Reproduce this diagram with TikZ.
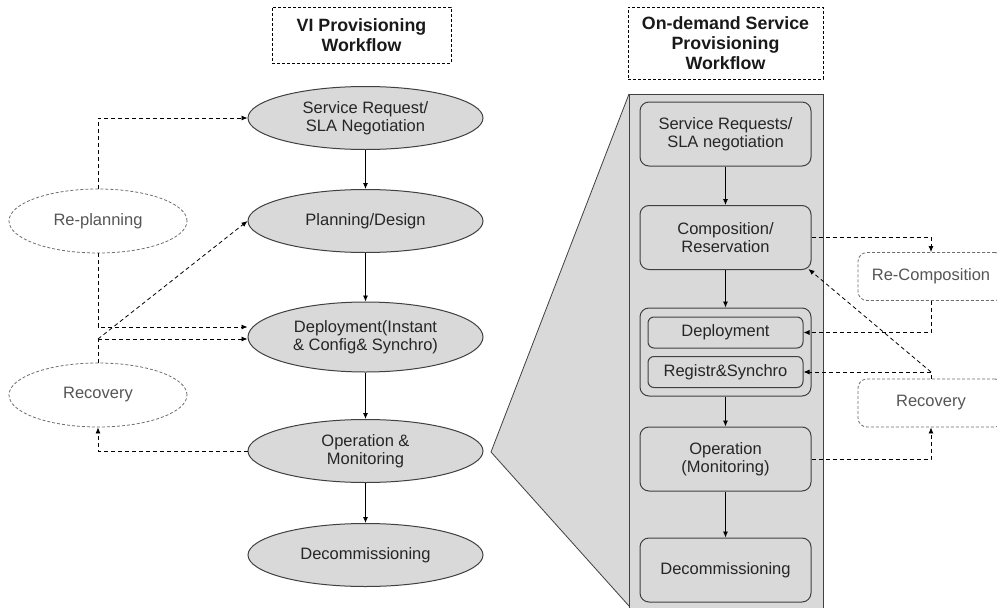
\documentclass[tikz,border=0pt]{standalone}
\usepackage{fontspec}
\setmainfont{Liberation Sans}
\usetikzlibrary{shapes.geometric,arrows.meta}
\definecolor{boxgray}{HTML}{D9D9D9}
\definecolor{linegray}{HTML}{404040}
\definecolor{dashgray}{HTML}{6E6E6E}
\definecolor{txtgray}{HTML}{555555}
\begin{document}
\begin{tikzpicture}[x=1pt, y=-1pt, >={Latex[length=6pt,width=5pt]},
  every node/.style={font=\fontsize{16.5}{17.5}\selectfont, align=center, inner sep=0pt, text=black!85},
  phase/.style={ellipse, draw=linegray, fill=boxgray, line width=1pt, minimum width=235pt, minimum height=63pt},
  fallback/.style={ellipse, draw=dashgray, dash pattern=on 3pt off 2pt, line width=0.8pt, minimum width=178pt, minimum height=64pt, text=txtgray},
  heading/.style={draw, dash pattern=on 3pt off 2pt, line width=0.7pt, font=\bfseries\fontsize{17.8}{20}\selectfont, text=black!90},
  stepbox/.style={rectangle, rounded corners=9pt, draw=linegray, fill=boxgray, line width=1pt, minimum width=171pt, minimum height=64pt},
  substep/.style={stepbox, rounded corners=6pt, minimum width=155pt, minimum height=31pt},
  sidebox/.style={rectangle, rounded corners=9pt, draw=dashgray, dash pattern=on 3pt off 2pt, line width=0.8pt, minimum width=146pt, minimum height=48pt, text=txtgray},
  flow/.style={->, line width=0.8pt},
  back/.style={->, dash pattern=on 4pt off 3pt, line width=0.8pt}]

  \useasboundingbox (0,0) rectangle (997,608);
  \clip (0,0) rectangle (997,608);

  % titles
  \node[heading, minimum width=179pt, minimum height=56pt] (vit) at (361.5,35) {VI Provisioning\\Workflow};
  \node[heading, minimum width=195pt, minimum height=72pt] (odt) at (725.5,43) {On-demand Service\\Provisioning\\Workflow};

  % VI provisioning workflow
  \node[phase] (sr) at (365.5,118) {Service Request/\\SLA Negotiation};
  \node[phase] (pd) at (365.5,221) {Planning/Design};
  \node[phase, minimum height=70pt] (dep) at (365.5,337) {Deployment(Instant\\\& Config\& Synchro)};
  \node[phase] (om) at (365.5,451) {Operation \&\\Monitoring};
  \node[phase] (dc) at (365.5,555) {Decommissioning};
  \draw[flow] (sr) -- (pd);
  \draw[flow] (pd) -- (dep);
  \draw[flow] (dep) -- (om);
  \draw[flow] (om) -- (dc);

  % re-planning and recovery
  \node[fallback] (rp) at (98,221) {Re-planning};
  \node[fallback] (rc) at (98,395) {Recovery};
  \coordinate (rcj) at (98,339);
  \draw[back] (rp.north) |- (sr.west);
  \draw[back] (rp.south) |- ([yshift=10pt]dep.west);
  \draw[back, -] (rc.north) -- (rcj);
  \draw[back] (rcj) -- ([yshift=-2pt]dep.west);
  \draw[back] (rcj) -- (pd.west);
  \draw[back] (om.west) -| (rc.south);

  % zoomed panel
  \fill[boxgray] (629,94) -- (491,452) -- (629,606) -- cycle;
  \draw[linegray, line width=0.8pt] (629,94) -- (491,452) -- (629,606);
  \draw[linegray, fill=boxgray, line width=1pt] (629,94) rectangle (823,612);

  % on-demand service provisioning workflow
  \node[stepbox] (rsr) at (725.5,134) {Service Requests/\\SLA negotiation};
  \node[stepbox] (rcr) at (725.5,237.5) {Composition/\\Reservation};
  \node[stepbox, minimum height=88pt] (rgrp) at (725.5,352) {};
  \node[substep] (rdep) at (725.5,332.5) {Deployment};
  \node[substep] (rreg) at (725.5,372) {Registr\&Synchro};
  \node[stepbox] (rom) at (725.5,459) {Operation\\(Monitoring)};
  \node[stepbox] (rdc) at (725.5,570) {Decommissioning};
  \draw[flow] (rsr) -- (rcr);
  \draw[flow] (rcr) -- (rgrp);
  \draw[flow] (rgrp) -- (rom);
  \draw[flow] (rom) -- (rdc);

  % re-composition and recovery
  \node[sidebox] (rrc) at (931,276.5) {Re-Composition};
  \node[sidebox] (rrv) at (931,403) {Recovery};
  \coordinate (rvj) at (rrv.north |- rreg.east);
  \draw[back] (rcr.east) -| (rrc.north);
  \draw[back] (rrc.south) |- (rdep.east);
  \draw[back] (rrv.north) |- (rreg.east);
  \draw[back] (rvj) -- ([shift={(-3pt,1pt)}]rcr.south east);
  \draw[back] (rom.east) -| (rrv.south);

\end{tikzpicture}
\end{document}
